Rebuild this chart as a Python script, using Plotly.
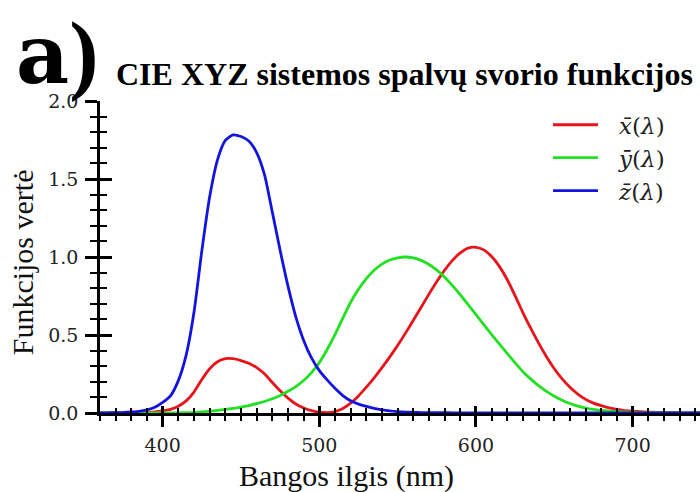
import plotly.graph_objects as go

# CIE 1931 2-degree colour matching functions (5 nm steps)
wavelength = list(range(360, 765, 5))
x_bar = [0.0001299, 0.0002321, 0.0004149, 0.0007416, 0.001368, 0.002236, 0.004243, 0.00765,
         0.01431, 0.02319, 0.04351, 0.07763, 0.13438, 0.21477, 0.2839, 0.3285, 0.34828,
         0.34806, 0.3362, 0.3187, 0.2908, 0.2511, 0.19536, 0.1421, 0.09564, 0.05795,
         0.03201, 0.0147, 0.0049, 0.0024, 0.0093, 0.0291, 0.06327, 0.1096, 0.1655,
         0.22575, 0.2904, 0.3597, 0.43345, 0.51205, 0.5945, 0.6784, 0.7621, 0.8425,
         0.9163, 0.9786, 1.0263, 1.0567, 1.0622, 1.0456, 1.0026, 0.9384, 0.85445, 0.7514,
         0.6424, 0.5419, 0.4479, 0.3608, 0.2835, 0.2187, 0.1649, 0.1212, 0.0874, 0.0636,
         0.04677, 0.0329, 0.0227, 0.01584, 0.011359, 0.008111, 0.00579, 0.004109, 0.002899,
         0.002049, 0.00144, 0.001, 0.00069, 0.000476, 0.000332, 0.000235, 0.000166]
y_bar = [0.000003917, 0.000006965, 0.00001239, 0.00002202, 0.000039, 0.000064, 0.00012,
         0.000217, 0.000396, 0.00064, 0.00121, 0.00218, 0.004, 0.0073, 0.0116, 0.01684,
         0.023, 0.0298, 0.038, 0.048, 0.06, 0.0739, 0.09098, 0.1126, 0.13902, 0.1693,
         0.20802, 0.2586, 0.323, 0.4073, 0.503, 0.6082, 0.71, 0.7932, 0.862, 0.91485,
         0.954, 0.9803, 0.99495, 1.0, 0.995, 0.9786, 0.952, 0.9154, 0.87, 0.8163, 0.757,
         0.6949, 0.631, 0.5668, 0.503, 0.4412, 0.381, 0.321, 0.265, 0.217, 0.175, 0.1382,
         0.107, 0.0816, 0.061, 0.04458, 0.032, 0.0232, 0.017, 0.01192, 0.00821, 0.005723,
         0.004102, 0.002929, 0.002091, 0.001484, 0.001047, 0.00074, 0.00052, 0.000361,
         0.000249, 0.000172, 0.00012, 0.0000848, 0.00006]
z_bar = [0.0006061, 0.001086, 0.001946, 0.003486, 0.00645, 0.01055, 0.02005, 0.03621,
         0.06785, 0.1102, 0.2074, 0.3713, 0.6456, 1.03905, 1.3856, 1.62296, 1.74706,
         1.7826, 1.77211, 1.7441, 1.6692, 1.5281, 1.28764, 1.0419, 0.81295, 0.6162,
         0.46518, 0.3533, 0.272, 0.2123, 0.1582, 0.1117, 0.07825, 0.05725, 0.04216,
         0.02984, 0.0203, 0.0134, 0.00875, 0.00575, 0.0039, 0.00275, 0.0021, 0.0018,
         0.00165, 0.0014, 0.0011, 0.001, 0.0008, 0.0006, 0.00034, 0.00024, 0.00019,
         0.0001, 0.00005, 0.00003, 0.00002, 0.00001, 0, 0, 0, 0, 0, 0, 0, 0, 0, 0, 0, 0,
         0, 0, 0, 0, 0, 0, 0, 0, 0, 0, 0]

series_names = ["<i>x̄</i>(<i>λ</i>)", "<i>ȳ</i>(<i>λ</i>)", "<i>z̄</i>(<i>λ</i>)"]
series_colors = ["#e8141c", "#22e022", "#1414e0"]

title_text = "CIE XYZ sistemos spalvų svorio funkcijos"
x_title = "Bangos ilgis (nm)"
y_title = "Funkcijos vertė"

fig = go.Figure()
for vals, name, col in zip([x_bar, y_bar, z_bar], series_names, series_colors):
    fig.add_trace(go.Scatter(x=wavelength, y=vals, mode="lines", name="\u2002\u2009" + name,
                             line=dict(color=col, width=2.8, shape="spline", smoothing=0.6)))
# empty trace to host the overlay axes (inside half of crossing ticks)
fig.add_trace(go.Scatter(x=[], y=[], xaxis="x2", yaxis="y2", showlegend=False, hoverinfo="skip"))

L, R, T, B = 100, 0, 100.7, 79.3
W, H = 700, 492
pw, ph = W - L - R, H - T - B

def px(xp):
    return (xp - L) / pw

def py(yp):
    return (H - B - yp) / ph

tickfont = dict(family="DejaVu Serif", size=19, color="#222")
xr = [360, 743]
yr = [0, 2]
fig.update_layout(
    width=W, height=H, margin=dict(l=L, r=R, t=T, b=B),
    paper_bgcolor="white", plot_bgcolor="white",
    showlegend=True,
    legend=dict(x=px(548), y=py(103), xanchor="left", yanchor="top",
                font=dict(family="DejaVu Serif", size=23, color="#222"),
                bgcolor="rgba(0,0,0,0)", itemwidth=45, tracegroupgap=0),
    xaxis=dict(range=xr, showgrid=False, zeroline=False, showline=True, linecolor="black",
               linewidth=2.5, ticks="outside", ticklen=11, tickwidth=2.5, tickcolor="black",
               tick0=0, dtick=100, tickfont=tickfont, ticklabelstandoff=2,
               minor=dict(dtick=10, tick0=0, ticks="outside", ticklen=5, tickwidth=2, tickcolor="black")),
    yaxis=dict(range=yr, showgrid=False, zeroline=False, showline=True, linecolor="black",
               linewidth=2.5, ticks="outside", ticklen=12, tickwidth=2.5, tickcolor="black",
               tick0=0, dtick=0.5, tickformat=".1f", tickfont=tickfont, ticklabelstandoff=3,
               minor=dict(dtick=0.1, tick0=0, ticks="outside", ticklen=7, tickwidth=2, tickcolor="black")),
    xaxis2=dict(range=xr, overlaying="x", anchor="y2", side="bottom", showgrid=False, zeroline=False,
                showline=False, ticks="inside", ticklen=7, tickwidth=2.5, tickcolor="black",
                tick0=0, dtick=100, showticklabels=False,
                minor=dict(dtick=10, tick0=0, ticks="inside", ticklen=5, tickwidth=2, tickcolor="black")),
    yaxis2=dict(range=yr, overlaying="y", anchor="x2", side="left", showgrid=False, zeroline=False,
                showline=False, ticks="inside", ticklen=12, tickwidth=2.5, tickcolor="black",
                tick0=0, dtick=0.5, showticklabels=False,
                minor=dict(dtick=0.1, tick0=0, ticks="inside", ticklen=7, tickwidth=2, tickcolor="black")),
)

fig.add_annotation(text="<b><span style='font-family:DejaVu Serif;font-size:82px'>a</span>)</b>",
                   xref="paper", yref="paper",
                   x=px(14), y=py(53), xanchor="left", yanchor="middle", showarrow=False,
                   font=dict(family="Liberation Serif", size=88, color="black"))
fig.add_annotation(text="<b>" + title_text + "</b>", xref="paper", yref="paper",
                   x=px(404), y=py(74), xanchor="center", yanchor="middle", showarrow=False,
                   font=dict(family="Liberation Serif", size=32, color="black"))
fig.add_annotation(text=x_title, xref="paper", yref="paper",
                   x=px(346), y=py(476), xanchor="center", yanchor="middle", showarrow=False,
                   font=dict(family="Liberation Serif", size=30, color="#111"))
fig.add_annotation(text=y_title, xref="paper", yref="paper", textangle=-90,
                   x=px(22), y=py(262), xanchor="center", yanchor="middle", showarrow=False,
                   font=dict(family="Liberation Serif", size=30, color="#111"))

fig.write_html("out.html")
